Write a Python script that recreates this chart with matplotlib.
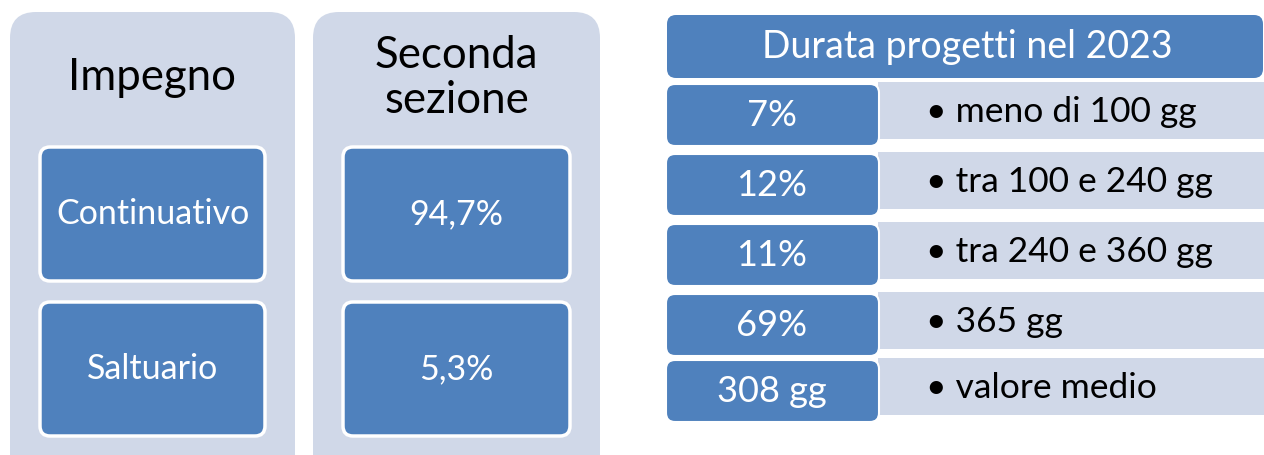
import matplotlib.pyplot as plt
from matplotlib.patches import FancyBboxPatch

plt.rcParams['font.family'] = ['Lato', 'DejaVu Sans']

# dati
impegno_title = "Impegno"
impegno_cats = ["Continuativo", "Saltuario"]
sezione_title = "Seconda\nsezione"
sezione_vals = ["94,7%", "5,3%"]
durata_title = "Durata progetti nel 2023"
durata_vals = ["7%", "12%", "11%", "69%", "308 gg"]
durata_labels = ["meno di 100 gg", "tra 100 e 240 gg", "tra 240 e 360 gg",
                 "365 gg", "valore medio"]

blue = "#4F81BD"
light = "#D0D8E8"

fig = plt.figure(figsize=(12.64, 4.56), dpi=100)
ax = fig.add_axes([0, 0, 1, 1])
ax.set_xlim(0, 1264)
ax.set_ylim(456, 0)
ax.axis("off")


def box(x0, y0, x1, y1, color, r, ec="none", lw=0, z=1):
    p = FancyBboxPatch((x0 + r, y0 + r), x1 - x0 - 2 * r, y1 - y0 - 2 * r,
                       boxstyle="round,pad=%g" % r, fc=color, ec=ec, lw=lw,
                       zorder=z)
    ax.add_patch(p)


# pannelli a sinistra
panels = [(10, 295, impegno_title, impegno_cats),
          (313, 600, sezione_title, sezione_vals)]
for x0, x1, title, items in panels:
    box(x0, 13, x1, 490, light, 26)
    ax.text((x0 + x1) / 2, 78, title, ha="center", va="center",
            fontsize=31.5, color="black", linespacing=1.12, zorder=3)
    ix0 = x0 + 30
    ix1 = x1 - 30
    for i, t in enumerate(items):
        y0 = 148 + i * 155
        box(ix0, y0, ix1, y0 + 134, blue, 10, ec="white", lw=2.5, z=2)
        ax.text((ix0 + ix1) / 2, y0 + 66, t, ha="center", va="center",
                fontsize=24.5, color="white", zorder=3)

# tabella a destra
box(667, 16, 1263, 79, blue, 9)
ax.text(967, 47, durata_title, ha="center", va="center", fontsize=27,
        color="white", zorder=3)

row_tops = [85, 155, 225, 295, 361]
for i in range(len(durata_vals)):
    y0 = row_tops[i]
    ax.add_patch(plt.Rectangle((878, y0 - 2), 400, 57, fc=light, ec="none",
                               zorder=1))
    box(666, y0, 879, y0 + 62, blue, 9, ec="white", lw=1.5, z=2)
    ax.text(772, y0 + 31, durata_vals[i], ha="center", va="center",
            fontsize=26, color="white", zorder=3)
    ax.text(926, y0 + 27, "\u2022 " + durata_labels[i], ha="left",
            va="center", fontsize=25.5, color="black", zorder=3)

fig.savefig("out.png", dpi=100)
